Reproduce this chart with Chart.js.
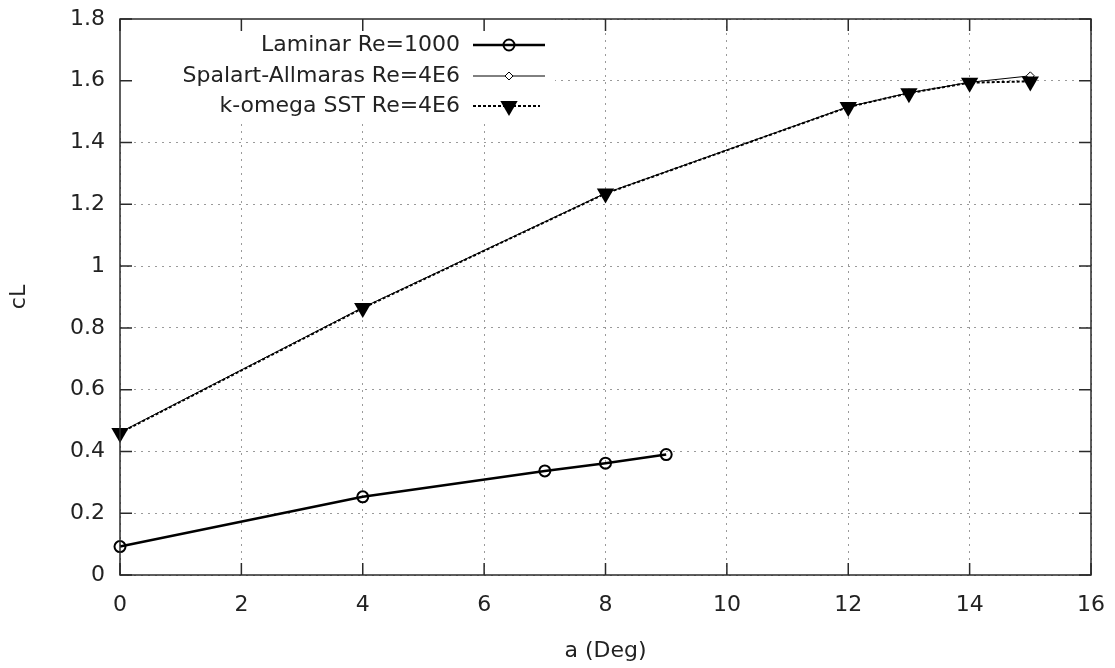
<!DOCTYPE html>
<html>
<head>
<meta charset="utf-8">
<style>
  html, body { margin: 0; padding: 0; background: #fff; }
  #wrap { width: 1115px; height: 668px; }
</style>
<script src="https://cdn.jsdelivr.net/npm/chart.js@4/dist/chart.umd.min.js"></script>
</head>
<body>
<div id="wrap"><canvas id="cl" width="1115" height="668"></canvas></div>
<script>
// angle of attack (deg) and lift coefficient
const laminarAlpha = [0, 4, 7, 8, 9];
const laminarCl = [0.092, 0.253, 0.337, 0.362, 0.390];

const turbAlpha = [0, 4, 8, 12, 13, 14, 15];
const saCl = [0.462, 0.866, 1.236, 1.516, 1.561, 1.595, 1.616];
const sstCl = [0.460, 0.864, 1.235, 1.515, 1.560, 1.594, 1.598];

const seriesNames = ['Laminar Re=1000', 'Spalart-Allmaras Re=4E6', 'k-omega SST Re=4E6'];

const FONT = 'DejaVu Sans';
const FSIZE = 22;
const INK = '#222';

function toPoints(xs, ys) {
  return xs.map((x, i) => ({ x, y: ys[i] }));
}

function noPad(s) {
  s.paddingLeft = 0; s.paddingRight = 0; s.paddingTop = 0; s.paddingBottom = 0;
}

// gnuplot-ish frame with inward ticks on all four sides, plus an opaque key
const gnuplotFrame = {
  id: 'gnuplotFrame',
  beforeDatasetsDraw(chart) {
    const { ctx, chartArea } = chart;
    ctx.save();
    ctx.fillStyle = '#fff';
    ctx.fillRect(chartArea.left, chartArea.top, 555 - chartArea.left, 120 - chartArea.top);
    ctx.restore();
  },
  afterDraw(chart) {
    const { ctx, chartArea: a, scales } = chart;
    const tl = 12;
    ctx.save();
    ctx.strokeStyle = '#2a2a2a';
    ctx.lineWidth = 1.5;
    ctx.beginPath();
    scales.x.ticks.forEach((t) => {
      const px = scales.x.getPixelForValue(t.value);
      ctx.moveTo(px, a.bottom); ctx.lineTo(px, a.bottom - tl);
      ctx.moveTo(px, a.top); ctx.lineTo(px, a.top + tl);
    });
    scales.y.ticks.forEach((t) => {
      const py = scales.y.getPixelForValue(t.value);
      ctx.moveTo(a.left, py); ctx.lineTo(a.left + tl, py);
      ctx.moveTo(a.right, py); ctx.lineTo(a.right - tl, py);
    });
    ctx.stroke();
    ctx.strokeRect(a.left, a.top, a.right - a.left, a.bottom - a.top);

    // key
    const textRight = 460, x0 = 473, x1 = 545, mx = 509;
    const rows = [45, 76, 106];
    ctx.font = FSIZE + 'px "' + FONT + '"';
    ctx.textAlign = 'right';
    ctx.textBaseline = 'middle';
    chart.data.datasets.forEach((ds, i) => {
      const y = rows[i];
      ctx.fillStyle = INK;
      ctx.fillText(seriesNames[i], textRight, y);
      ctx.strokeStyle = ds.borderColor;
      ctx.lineWidth = ds.borderWidth;
      ctx.setLineDash(ds.borderDash || []);
      ctx.beginPath();
      ctx.moveTo(x0, y); ctx.lineTo(i === 2 ? x1 - 5 : x1, y);
      ctx.stroke();
      ctx.setLineDash([]);
      ctx.fillStyle = ds.pointBackgroundColor;
      ctx.strokeStyle = ds.pointBorderColor;
      ctx.lineWidth = ds.pointBorderWidth;
      Chart.helpers.drawPoint(ctx, {
        pointStyle: ds.pointStyle,
        radius: ds.pointRadius,
        rotation: ds.pointRotation || 0,
        borderWidth: ds.pointBorderWidth
      }, mx, y);
    });
    ctx.restore();
  }
};

new Chart(document.getElementById('cl'), {
  type: 'line',
  data: {
    datasets: [
      {
        label: seriesNames[0],
        data: toPoints(laminarAlpha, laminarCl),
        borderColor: '#000',
        borderWidth: 2.5,
        pointStyle: 'circle',
        pointRadius: 5.5,
        pointBorderWidth: 2,
        pointBorderColor: '#000',
        pointBackgroundColor: 'rgba(255,255,255,0)',
        clip: false,
        order: 2
      },
      {
        label: seriesNames[1],
        data: toPoints(turbAlpha, saCl),
        borderColor: '#000',
        borderWidth: 1,
        pointStyle: 'rectRot',
        pointRadius: 4,
        pointBorderWidth: 1,
        pointBorderColor: '#000',
        pointBackgroundColor: '#fff',
        clip: false,
        order: 1
      },
      {
        label: seriesNames[2],
        data: toPoints(turbAlpha, sstCl),
        borderColor: '#000',
        borderWidth: 2,
        borderDash: [3, 2],
        pointStyle: 'triangle',
        pointRotation: 180,
        pointRadius: 10,
        pointBorderWidth: 0,
        pointBorderColor: '#000',
        pointBackgroundColor: '#000',
        clip: false,
        order: 0
      }
    ]
  },
  options: {
    responsive: false,
    animation: false,
    devicePixelRatio: 1,
    layout: { padding: { left: 0, top: 19, right: 24, bottom: 0 } },
    plugins: {
      legend: { display: false },
      tooltip: { enabled: false }
    },
    elements: { line: { tension: 0 } },
    scales: {
      x: {
        type: 'linear',
        min: 0,
        max: 16,
        afterFit: (s) => { s.height = 93; noPad(s); },
        ticks: { stepSize: 2, padding: 17, color: INK, font: { family: FONT, size: FSIZE } },
        grid: { color: '#9a9a9a', lineWidth: 1, drawTicks: false },
        border: { display: false, dash: [2, 5] },
        title: { display: true, text: 'a (Deg)', color: INK, font: { family: FONT, size: FSIZE }, padding: { top: 0, bottom: 4 } }
      },
      y: {
        type: 'linear',
        min: 0,
        max: 1.8,
        afterFit: (s) => { s.width = 120; noPad(s); },
        ticks: {
          stepSize: 0.2, padding: 15, color: INK, font: { family: FONT, size: FSIZE },
          callback: (v) => String(Number(v.toFixed(1)))
        },
        grid: { color: '#9a9a9a', lineWidth: 1, drawTicks: false },
        border: { display: false, dash: [2, 5] },
        title: { display: true, text: 'cL', color: INK, font: { family: FONT, size: FSIZE }, padding: { top: 6, bottom: 0 } }
      }
    }
  },
  plugins: [gnuplotFrame]
});
</script>
</body>
</html>
